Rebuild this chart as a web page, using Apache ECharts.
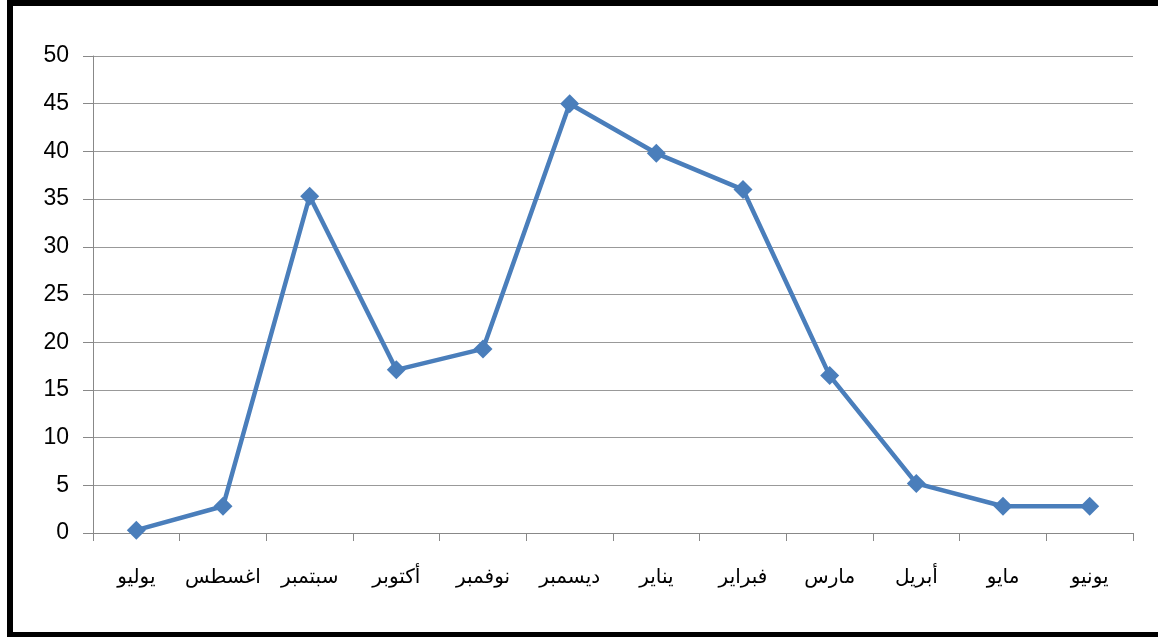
<!DOCTYPE html>
<html>
<head>
<meta charset="utf-8">
<script src="https://cdn.jsdelivr.net/npm/echarts@6/dist/echarts.min.js"></script>
<style>
html,body{margin:0;padding:0;background:#fff;}
#frame{position:absolute;left:7px;top:0;width:1151px;height:637px;border-left:6px solid #000;border-top:6px solid #000;border-bottom:5px solid #000;box-sizing:border-box;}
#chart{position:absolute;left:0;top:0;width:1158px;height:641px;}
</style>
</head>
<body>
<div id="frame"></div>
<div id="chart"></div>
<script>
const months = ['يوليو','اغسطس','سبتمبر','أكتوبر','نوفمبر','ديسمبر','يناير','فبراير','مارس','أبريل','مايو','يونيو'];
const values = [0.3, 2.8, 35.3, 17.1, 19.3, 45.0, 39.8, 36.0, 16.5, 5.2, 2.8, 2.8];
const yMin = 0, yMax = 50, yStep = 5;

const chart = echarts.init(document.getElementById('chart'), null, {renderer:'canvas'});
chart.setOption({
  animation:false,
  backgroundColor:'transparent',
  grid:{left:93,right:25,top:56,bottom:108,containLabel:false},
  xAxis:{
    type:'category',
    data:months,
    boundaryGap:true,
    axisLine:{lineStyle:{color:'#888',width:1}},
    axisTick:{show:true,interval:0,length:8,lineStyle:{color:'#888'}},
    axisLabel:{interval:0,margin:34,fontSize:20,color:'#000',fontFamily:'Arial, "Liberation Sans", "DejaVu Sans", sans-serif'},
    splitLine:{show:false}
  },
  yAxis:{
    type:'value',
    min:yMin,max:yMax,interval:yStep,
    axisLine:{show:true,lineStyle:{color:'#888',width:1}},
    axisTick:{show:true,length:10,lineStyle:{color:'#888'}},
    axisLabel:{margin:24,fontSize:23,color:'#000',fontFamily:'Arial, "Liberation Sans", sans-serif'},
    splitLine:{show:true,lineStyle:{color:'#999',width:1}}
  },
  series:[{
    type:'line',
    data:values,
    symbol:'diamond',
    symbolSize:19,
    lineStyle:{color:'#4A7EBB',width:4.5},
    itemStyle:{color:'#4A7EBB'},
    z:3
  }]
});
</script>
</body>
</html>
